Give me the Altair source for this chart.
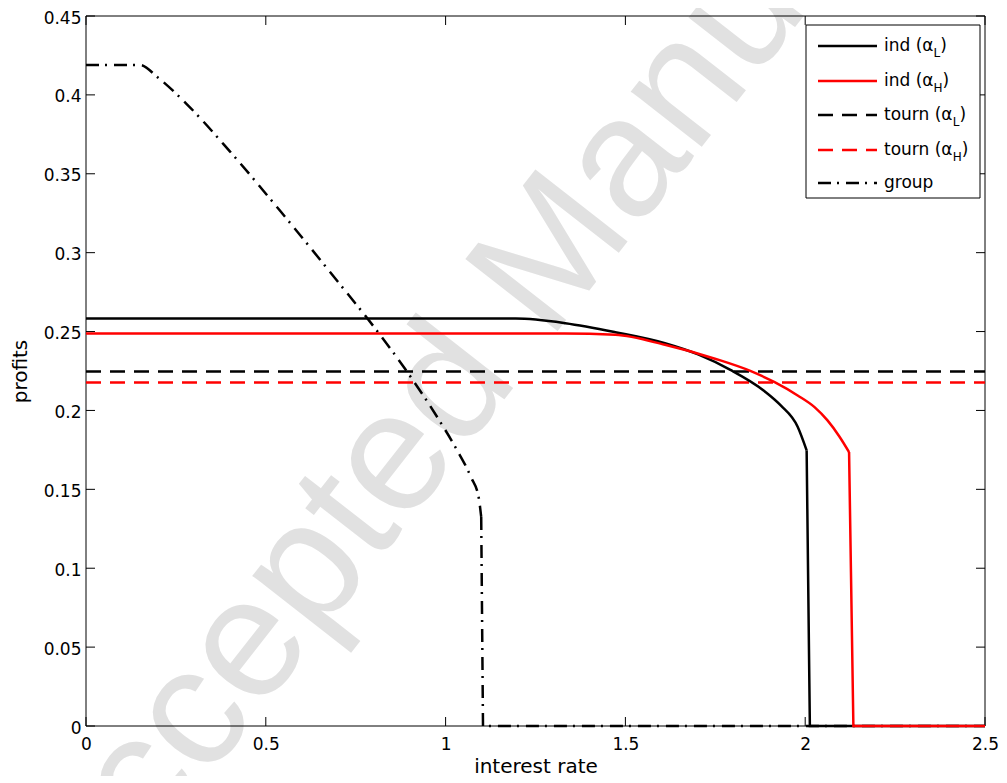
import altair as alt
import pandas as pd

# ---------------- data ----------------
# ind (alpha_L): smooth part, then the drop to zero
ind_L_x = [0.0, 1.195, 1.333, 1.472, 1.610, 1.702, 1.792, 1.887, 1.932, 1.979, 2.004]
ind_L_y = [0.2582, 0.2582, 0.2553, 0.2496, 0.2426, 0.2355, 0.2257, 0.2122, 0.2032, 0.1897, 0.1747]
ind_L_drop_x = [2.004, 2.013, 2.5]
ind_L_drop_y = [0.1747, 0.0, 0.0]

# ind (alpha_H)
ind_H_x = [0.0, 1.33, 1.472, 1.610, 1.749, 1.849, 1.915, 1.979, 2.026, 2.062, 2.095, 2.122]
ind_H_y = [0.2487, 0.2487, 0.2479, 0.2416, 0.2328, 0.2249, 0.2179, 0.2095, 0.2021, 0.1937, 0.1835, 0.1736]
ind_H_drop_x = [2.122, 2.134, 2.5]
ind_H_drop_y = [0.1736, 0.0, 0.0]

tourn_L_x = [0.0, 2.5]
tourn_L_y = [0.2247, 0.2247]

tourn_H_x = [0.0, 2.5]
tourn_H_y = [0.2177, 0.2177]

group_x = [0.0, 0.15, 0.20, 0.28, 0.40, 0.55, 0.70, 0.80, 0.90, 0.98, 1.03, 1.07, 1.092, 1.099, 1.104, 2.5]
group_y = [0.419, 0.419, 0.411, 0.3942, 0.3642, 0.3237, 0.2817, 0.2532, 0.2222, 0.1946, 0.1756, 0.158,
           0.1448, 0.1325, 0.0, 0.0]

x_ticks = [0, 0.5, 1, 1.5, 2, 2.5]
y_ticks = [0, 0.05, 0.1, 0.15, 0.2, 0.25, 0.3, 0.35, 0.4, 0.45]

legend_main = ["ind (α", "ind (α", "tourn (α", "tourn (α", "group"]
legend_sub = ["L", "H", "L", "H", ""]
legend_colors = ["black", "red", "black", "red", "black"]
x_title = "interest rate"
y_title = "profits"
watermark = "Accepted Manuscript"

# ---------------- layout / style ----------------
W, H = 899, 710
FONT = "DejaVu Sans"
LW = 2.5
DASH = [15, 9]
DASHDOT = [13, 6, 2, 7]
legend_dashes = [None, None, DASH, DASH, DASHDOT]

xs = alt.Scale(domain=[0, 2.5], nice=False, zero=False)
ys = alt.Scale(domain=[0, 0.45], nice=False, zero=False)
xa = alt.Axis(values=x_ticks, format="~g", title=x_title, grid=False, ticks=False, domain=False,
              labelFlush=False, labelOverlap=False, labelPadding=10, titlePadding=4, zindex=1)
ya = alt.Axis(values=y_ticks, format="~g", title=y_title, grid=False, ticks=False, domain=False,
              labelFlush=False, labelOverlap=False, labelPadding=5, labelOffset=2, titlePadding=13, zindex=1)

one = pd.DataFrame({"a": [0]})
layers = []

# watermark (behind everything)
layers.append(
    alt.Chart(one).mark_text(text=watermark, angle=308, fontSize=170, font="Liberation Sans",
                             color="#e1e1e1", align="center", baseline="middle")
    .encode(x=alt.value(446), y=alt.value(265))
)

# plot box
layers.append(
    alt.Chart(one).mark_rect(filled=False, stroke="black", strokeWidth=1)
    .encode(x=alt.value(0), x2=alt.value(W), y=alt.value(0), y2=alt.value(H))
)

# inward ticks on all four sides
xt = pd.DataFrame({"t": x_ticks})
yt = pd.DataFrame({"t": y_ticks})
layers.append(alt.Chart(xt).mark_rule(color="black", strokeWidth=1).encode(
    x=alt.X("t:Q", scale=xs, axis=xa), y=alt.value(H), y2=alt.value(H - 9)))
layers.append(alt.Chart(xt).mark_rule(color="black", strokeWidth=1).encode(
    x=alt.X("t:Q", scale=xs, axis=xa), y=alt.value(0), y2=alt.value(9)))
layers.append(alt.Chart(yt).mark_rule(color="black", strokeWidth=1).encode(
    y=alt.Y("t:Q", scale=ys, axis=ya), x=alt.value(0), x2=alt.value(9)))
layers.append(alt.Chart(yt).mark_rule(color="black", strokeWidth=1).encode(
    y=alt.Y("t:Q", scale=ys, axis=ya), x=alt.value(W), x2=alt.value(W - 9)))


def series(xv, yv, color, dash=None, interp="monotone"):
    df = pd.DataFrame({"t": xv, "v": yv, "o": list(range(len(xv)))})
    kw = dict(color=color, strokeWidth=LW, interpolate=interp, strokeJoin="miter")
    if dash is not None:
        kw["strokeDash"] = dash
    return alt.Chart(df).mark_line(**kw).encode(
        x=alt.X("t:Q", scale=xs, axis=xa),
        y=alt.Y("v:Q", scale=ys, axis=ya),
        order="o:Q",
    )


n_g = group_x.index(1.099) + 1
layers.append(series(tourn_L_x, tourn_L_y, "black", DASH, "linear"))
layers.append(series(tourn_H_x, tourn_H_y, "red", DASH, "linear"))
layers.append(series(group_x[:n_g], group_y[:n_g], "black", DASHDOT))
layers.append(series(group_x[n_g - 1:], group_y[n_g - 1:], "black", DASHDOT, "linear"))
layers.append(series(ind_L_x, ind_L_y, "black"))
layers.append(series(ind_L_drop_x, ind_L_drop_y, "black", None, "linear"))
layers.append(series(ind_H_x, ind_H_y, "red"))
layers.append(series(ind_H_drop_x, ind_H_drop_y, "red", None, "linear"))

# ---------------- legend (hand-built for subscripts) ----------------
layers.append(
    alt.Chart(one).mark_rect(fill="white", stroke="black", strokeWidth=1)
    .encode(x=alt.value(720), x2=alt.value(894), y=alt.value(9), y2=alt.value(182))
)
ADV = {"i": .278, "n": .634, "d": .635, " ": .318, "(": .39, ")": .39, "α": .659, "t": .392,
       "o": .612, "u": .634, "r": .411, "g": .635, "p": .635, "L": .557, "H": .752}
row_y = [30, 65, 99, 134, 167]
TX = 798
for i in range(5):
    ry = row_y[i]
    kw = dict(color=legend_colors[i], strokeWidth=LW)
    if legend_dashes[i] is not None:
        kw["strokeDash"] = legend_dashes[i]
    layers.append(alt.Chart(one).mark_rule(**kw).encode(
        x=alt.value(732), x2=alt.value(791), y=alt.value(ry)))
    layers.append(alt.Chart(one).mark_text(align="left", baseline="middle", font=FONT, fontSize=17,
                                           color="black", text=legend_main[i])
                  .encode(x=alt.value(TX), y=alt.value(ry)))
    if legend_sub[i]:
        wm = sum(ADV.get(c, .6) for c in legend_main[i]) * 17
        ws = sum(ADV.get(c, .6) for c in legend_sub[i]) * 12
        layers.append(alt.Chart(one).mark_text(align="left", baseline="middle", font=FONT, fontSize=12,
                                               color="black", text=legend_sub[i])
                      .encode(x=alt.value(TX + wm), y=alt.value(ry + 7)))
        layers.append(alt.Chart(one).mark_text(align="left", baseline="middle", font=FONT, fontSize=17,
                                               color="black", text=")")
                      .encode(x=alt.value(TX + wm + ws), y=alt.value(ry)))

chart = (
    alt.layer(*layers)
    .properties(width=W, height=H, autosize=alt.AutoSizeParams(type="none"),
                padding={"left": 78, "top": 8, "right": 14, "bottom": 50})
    .configure_view(stroke=None)
    .configure_axis(labelFont=FONT, labelFontSize=17, labelColor="black",
                    titleFont=FONT, titleFontSize=20, titleFontWeight="normal", titleColor="black")
)

chart.save("out.html", embed_options={"renderer": "svg", "actions": False})
